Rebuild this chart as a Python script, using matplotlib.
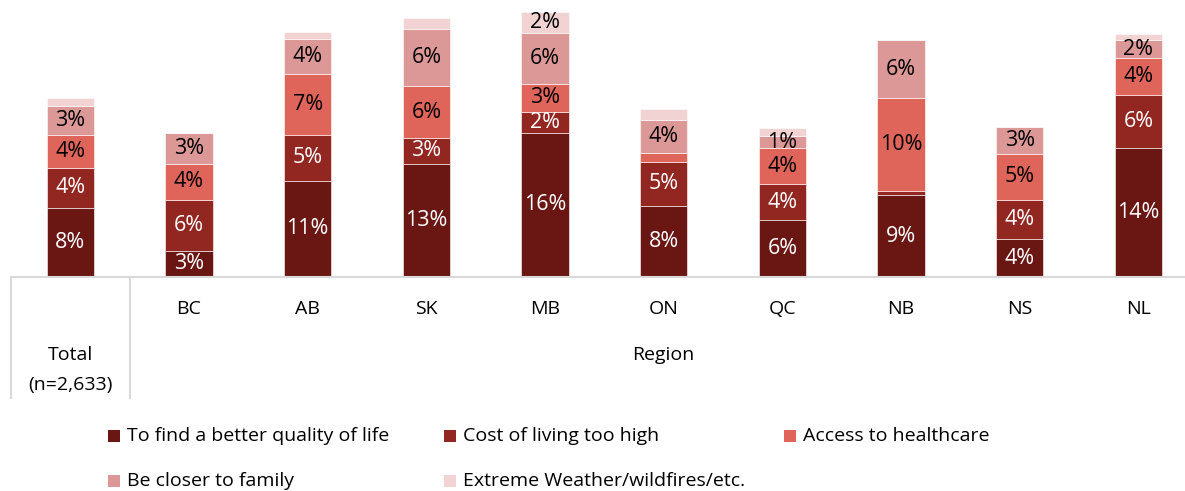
import matplotlib.pyplot as plt
from matplotlib.patches import Rectangle
from matplotlib.lines import Line2D

plt.rcParams['font.family'] = ['Open Sans', 'DejaVu Sans']

# data (percent)
categories = ['Total', 'BC', 'AB', 'SK', 'MB', 'ON', 'QC', 'NB', 'NS', 'NL']
series = ['To find a better quality of life', 'Cost of living too high',
          'Access to healthcare', 'Be closer to family',
          'Extreme Weather/wildfires/etc.']
quality = [7.7, 2.9, 10.7, 12.6, 16.0, 7.9, 6.3, 9.1, 4.2, 14.3]
cost = [4.4, 5.7, 5.1, 2.8, 2.3, 4.9, 4.0, 0.5, 4.4, 5.9]
healthcare = [3.7, 4.0, 6.8, 5.8, 3.2, 1.0, 4.0, 10.3, 5.1, 4.1]
family = [3.2, 3.4, 3.8, 6.4, 5.6, 3.6, 1.4, 6.4, 3.0, 2.0]
weather = [0.9, 0.0, 0.8, 1.2, 2.4, 1.3, 0.9, 0.0, 0.0, 0.7]

colors = ['#6A1714', '#922621', '#DF655B', '#DC9897', '#F2D3D4']
text_colors = ['white', 'white', 'black', 'black', 'black']

W, H = 1185, 491
fig = plt.figure(figsize=(W / 100, H / 100), dpi=100)
# plot area: baseline at y=277px, 9 px per percentage point
ax = fig.add_axes([11 / W, (H - 277) / H, 1186.7 / W, 270 / H])

x = list(range(len(categories)))
bottom = [0.0] * len(categories)
for vals, col, tc in zip([quality, cost, healthcare, family, weather], colors, text_colors):
    ax.bar(x, vals, width=0.4, bottom=bottom, color=col, edgecolor='white', linewidth=0.4)
    for xi, b, v in zip(x, bottom, vals):
        if v >= 1.4:
            ax.text(xi, b + v / 2, '%d%%' % round(v), ha='center', va='center',
                    color=tc, fontsize=15.5)
    bottom = [b + v for b, v in zip(bottom, vals)]

ax.set_xlim(-0.5, 9.5)
ax.set_ylim(0, 30)
ax.axis('off')

# category axis (multi-level, table-like)
grid = '#D9D9D9'
fig.add_artist(Line2D([11 / W, 1], [(H - 277) / H] * 2, color=grid, lw=1.5))
for px in [11, 130]:
    fig.add_artist(Line2D([px / W] * 2, [(H - 277) / H, (H - 398) / H], color=grid, lw=1.5))

fs = 14
for xi, c in zip(x[1:], categories[1:]):
    ax.text(xi, -32 / 9, c, ha='center', va='center', fontsize=fs)
ax.text(sum(x[1:]) / len(x[1:]), -78 / 9, 'Region', ha='center', va='center', fontsize=fs)
ax.text(0, -78 / 9, 'Total', ha='center', va='center', fontsize=fs)
ax.text(0, -108 / 9, '(n=2,633)', ha='center', va='center', fontsize=fs)

# legend, laid out row by row
pos = [(108, 436), (444, 436), (784, 436), (108, 481), (444, 481)]
for (px, py), name, col in zip(pos, series, colors):
    fig.add_artist(Rectangle((px / W, (H - py - 6) / H), 12 / W, 12 / H,
                             facecolor=col, edgecolor='none', transform=fig.transFigure))
    fig.text((px + 19) / W, (H - py) / H, name, ha='left', va='center', fontsize=fs)

plt.savefig('out.png', dpi=100)
